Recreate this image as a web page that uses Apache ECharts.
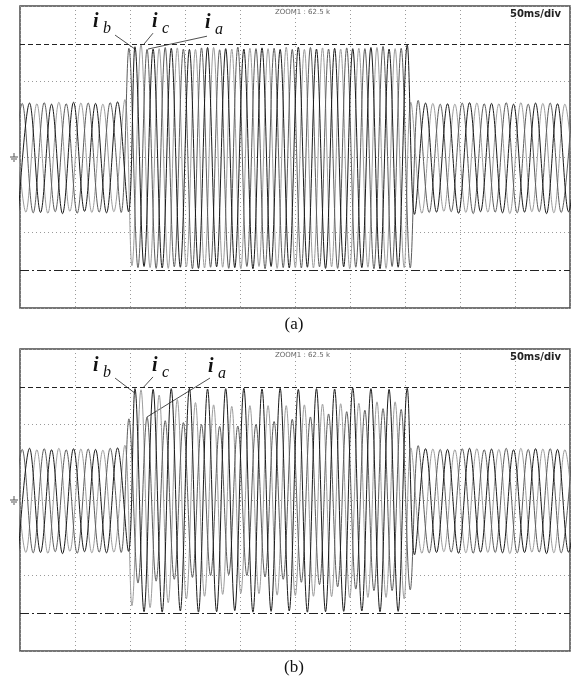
<!DOCTYPE html>
<html>
<head>
<meta charset="utf-8">
<script src="https://cdn.jsdelivr.net/npm/echarts@6/dist/echarts.min.js"></script>
<style>
  html, body { margin: 0; padding: 0; background: #fff; }
  #chart { width: 571px; height: 678px; }
</style>
</head>
<body>
<div id="chart"></div>
<script>
// Three-phase line currents recorded on a scope, 50 ms/div over 10 divisions.
// Each phase is stored as its successive extremes (peak / trough, in divisions);
// the trace is drawn as a smooth line through them.

const timeRange = [0, 500];          // ms across the screen
const timeStep = 50;                 // ms per division
const currentRange = [-4, 4];        // vertical divisions
const currentStep = 2;
const cursorLevels = [3, -3];        // horizontal cursors
const segmentHz = [50, 60.6, 50];    // before, during, after the disturbance

// time of the first extreme (ms) in each segment, per phase [ia, ib, ic]
const firstPre = [-8, -1.33, -4.67];
const firstSag = [99, 104.5, 101.75];
const firstPost = [362, 358.67, 355.33];

// ---- record (a) ----
const iaPreA = [-1.46, 1.42, -1.48, 1.44, -1.45, 1.41, -1.49, 1.43, -1.46, 1.44, -1.47];
const ibPreA = [-1.44, 1.43, -1.47, 1.40, -1.50, 1.45, -1.44, 1.42, -1.48, 1.46, -1.45];
const icPreA = [1.44, -1.46, 1.41, -1.49, 1.45, -1.44, 1.43, -1.47, 1.40, -1.45, 1.52];

const iaSagA = [2.88, -2.93, 2.85, -2.95, 2.90, -2.91, 2.86, -2.96, 2.89, -2.92, 2.84, -2.95, 2.91, -2.90, 2.87, -2.96,
                2.88, -2.93, 2.85, -2.94, 2.90, -2.91, 2.86, -2.95, 2.89, -2.92, 2.87, -2.96, 2.93, -2.90, 2.88, -2.94];
const ibSagA = [2.92, -2.90, 2.86, -2.94, 2.88, -2.92, 2.85, -2.95, 2.90, -2.91, 2.87, -2.93, 2.86, -2.96, 2.89, -2.90,
                2.85, -2.94, 2.91, -2.92, 2.86, -2.95, 2.88, -2.91, 2.87, -2.93, 2.90, -2.96, 2.86, -2.92, 2.97];
const icSagA = [-2.88, 2.98, -2.93, 2.87, -2.95, 2.89, -2.91, 2.85, -2.94, 2.90, -2.92, 2.86, -2.96, 2.88, -2.90, 2.87,
                -2.95, 2.91, -2.93, 2.85, -2.94, 2.89, -2.91, 2.86, -2.96, 2.88, -2.92, 2.90, -2.95, 2.87, -2.93];

const iaPostA = [1.50, -1.47, 1.40, -1.45, 1.43, -1.50, 1.41, -1.46, 1.44, -1.48, 1.40, -1.45, 1.43, -1.47, 1.42];
const ibPostA = [-1.52, 1.43, -1.46, 1.41, -1.49, 1.44, -1.45, 1.42, -1.48, 1.40, -1.46, 1.43, -1.50, 1.41, -1.45, 1.44];
const icPostA = [1.45, -1.49, 1.42, -1.44, 1.40, -1.47, 1.43, -1.46, 1.41, -1.50, 1.44, -1.45, 1.42, -1.48, 1.40, -1.46];

// ---- record (b) ----
const iaPreB = [-1.38, 1.34, -1.40, 1.36, -1.37, 1.33, -1.41, 1.35, -1.38, 1.37, -1.39];
const ibPreB = [-1.36, 1.37, -1.39, 1.33, -1.42, 1.36, -1.37, 1.34, -1.40, 1.38, -1.36];
const icPreB = [1.36, -1.39, 1.33, -1.41, 1.37, -1.36, 1.35, -1.40, 1.32, -1.38, 1.45];

const iaSagB = [2.15, -2.20, 2.20, -2.15, 2.10, -2.10, 2.05, -2.05, 2.00, -2.00, 1.95, -1.98, 1.96, -2.00, 2.00, -2.04,
                2.08, -2.10, 2.14, -2.18, 2.20, -2.24, 2.28, -2.30, 2.34, -2.36, 2.38, -2.40, 2.42, -2.40, 2.40, -2.38];
const ibSagB = [2.95, -2.96, 2.93, -2.97, 2.95, -2.94, 2.96, -2.97, 2.94, -2.96, 2.95, -2.93, 2.96, -2.97, 2.94, -2.95,
                2.96, -2.94, 2.93, -2.97, 2.95, -2.96, 2.94, -2.95, 2.97, -2.94, 2.95, -2.96, 2.93, -2.95, 2.96];
const icSagB = [-2.80, 2.92, -2.85, 2.78, -2.72, 2.66, -2.62, 2.58, -2.55, 2.52, -2.50, 2.48, -2.47, 2.50, -2.48, 2.50,
                -2.52, 2.50, -2.53, 2.52, -2.55, 2.54, -2.56, 2.55, -2.58, 2.56, -2.58, 2.60, -2.58, 2.60, -2.62];

const iaPostB = [1.44, -1.40, 1.34, -1.38, 1.36, -1.41, 1.33, -1.39, 1.37, -1.40, 1.34, -1.38, 1.36, -1.40, 1.35];
const ibPostB = [-1.45, 1.36, -1.39, 1.34, -1.41, 1.37, -1.38, 1.35, -1.40, 1.33, -1.39, 1.36, -1.42, 1.34, -1.38, 1.37];
const icPostB = [1.38, -1.41, 1.35, -1.37, 1.33, -1.40, 1.36, -1.39, 1.34, -1.42, 1.37, -1.38, 1.35, -1.40, 1.33, -1.39];

const phaseNames = ['a', 'b', 'c'];
const phaseColors = ['#5c5c5c', '#1a1a1a', '#9c9c9c'];
const captions = ['(a)', '(b)'];

// phase label anchors per record: label position, leader start and the peak it points at, in (ms, div)
const labelAnchorsA = { a: [[168.2, 3.39], [170.0, 3.20], [116.4, 2.86]],
                        b: [[66.4, 3.42], [86.4, 3.23], [104.5, 2.86]],
                        c: [[120.0, 3.42], [120.9, 3.28], [112.7, 2.99]] };
const labelAnchorsB = { a: [[170.9, 3.36], [172.7, 3.23], [115.5, 2.20]],
                        b: [[66.4, 3.39], [86.4, 3.23], [104.5, 2.83]],
                        c: [[120.0, 3.39], [120.9, 3.26], [111.8, 2.97]] };

const records = [
  { phases: [[iaPreA, iaSagA, iaPostA], [ibPreA, ibSagA, ibPostA], [icPreA, icSagA, icPostA]], labels: labelAnchorsA },
  { phases: [[iaPreB, iaSagB, iaPostB], [ibPreB, ibSagB, ibPostB], [icPreB, icSagB, icPostB]], labels: labelAnchorsB }
];

// layout
const gridLeft = 20, gridWidth = 550, gridHeight = 302;
const gridTops = [6, 349];

function phaseData(pi, parts) {
  const firsts = [firstPre, firstSag, firstPost];
  const out = [];
  parts.forEach((vals, s) => {
    const half = 500 / segmentHz[s];
    vals.forEach((v, k) => out.push([firsts[s][pi] + k * half, v]));
  });
  return out;
}

const chart = echarts.init(document.getElementById('chart'), null, { renderer: 'canvas' });

const grids = [], xAxes = [], yAxes = [], series = [];
records.forEach((rec, gi) => {
  grids.push({ left: gridLeft, top: gridTops[gi], width: gridWidth, height: gridHeight,
               show: true, backgroundColor: '#fff', borderColor: '#4a4a4a', borderWidth: 1.5 });
  xAxes.push({ type: 'value', gridIndex: gi, min: timeRange[0], max: timeRange[1], interval: timeStep,
               axisLine: { show: false }, axisTick: { show: false }, axisLabel: { show: false },
               splitLine: { show: true, lineStyle: { color: '#9a9a9a', width: 1, type: [1, 3] } } });
  yAxes.push({ type: 'value', gridIndex: gi, min: currentRange[0], max: currentRange[1], interval: currentStep,
               axisLine: { show: false }, axisTick: { show: false }, axisLabel: { show: false },
               splitLine: { show: true, lineStyle: { color: '#9a9a9a', width: 1, type: [1, 3] } } });
  // light phases first, darkest on top
  [2, 0, 1].forEach((pi, order) => {
    const s = {
      name: 'i' + phaseNames[pi], type: 'line', xAxisIndex: gi, yAxisIndex: gi,
      data: phaseData(pi, rec.phases[pi]),
      showSymbol: false, smooth: 0.36, clip: true, animation: false, silent: true,
      lineStyle: { color: phaseColors[pi], width: 1 }
    };
    if (order === 2) {
      s.markLine = {
        silent: true, symbol: 'none', animation: false, label: { show: false },
        data: [
          { yAxis: cursorLevels[0], lineStyle: { color: '#222', width: 1, type: [5, 3] } },
          { yAxis: cursorLevels[1], lineStyle: { color: '#222', width: 1, type: [9, 3, 2, 3] } }
        ]
      };
    }
    series.push(s);
  });
});

chart.setOption({
  animation: false,
  backgroundColor: '#fff',
  grid: grids, xAxis: xAxes, yAxis: yAxes, series: series
});

// overlay: scope annotations, phase labels, ground marks, captions
const overlay = [];
records.forEach((rec, gi) => {
  const top = gridTops[gi];
  const px = (p) => chart.convertToPixel({ gridIndex: gi }, p);

  overlay.push({ type: 'text', silent: true, style: {
    text: 'ZOOM1 : 62.5 k', x: gridLeft + 255, y: top + 3, fill: '#666',
    font: '7px "DejaVu Sans"', align: 'left', verticalAlign: 'top' } });
  overlay.push({ type: 'text', silent: true, style: {
    text: '50ms/div', x: gridLeft + 541, y: top + 3, fill: '#222',
    font: 'bold 10px "DejaVu Sans"', align: 'right', verticalAlign: 'top' } });

  // ground reference at zero current
  const z = px([0, 0]);
  const gx = gridLeft - 5, gy = z[1];
  [[gx - 5, gy, gx + 3, gy], [gx - 4, gy + 2, gx + 2, gy + 2], [gx - 2, gy + 4, gx, gy + 4], [gx - 1, gy - 4, gx - 1, gy]]
    .forEach(l => overlay.push({ type: 'line', silent: true,
      shape: { x1: l[0], y1: l[1], x2: l[2], y2: l[3] }, style: { stroke: '#555', lineWidth: 1 } }));

  phaseNames.forEach(n => {
    const [lab, from, to] = rec.labels[n];
    const p = px(lab), f = px(from), t = px(to);
    overlay.push({ type: 'text', silent: true, style: {
      text: 'i', x: p[0], y: p[1] + 4, fill: '#111',
      font: 'italic bold 20px "Liberation Serif"', align: 'left', verticalAlign: 'bottom' } });
    overlay.push({ type: 'text', silent: true, style: {
      text: n, x: p[0] + 10, y: p[1] + 9, fill: '#111',
      font: 'italic 16px "Liberation Serif"', align: 'left', verticalAlign: 'bottom' } });
    overlay.push({ type: 'line', silent: true,
      shape: { x1: f[0], y1: f[1], x2: t[0], y2: t[1] }, style: { stroke: '#222', lineWidth: 0.8 } });
  });

  overlay.push({ type: 'text', silent: true, style: {
    text: captions[gi], x: gridLeft + gridWidth / 2 - 1, y: top + gridHeight + 17, fill: '#111',
    font: '17px "Liberation Serif"', align: 'center', verticalAlign: 'middle' } });
});

chart.setOption({ graphic: overlay });
</script>
</body>
</html>
